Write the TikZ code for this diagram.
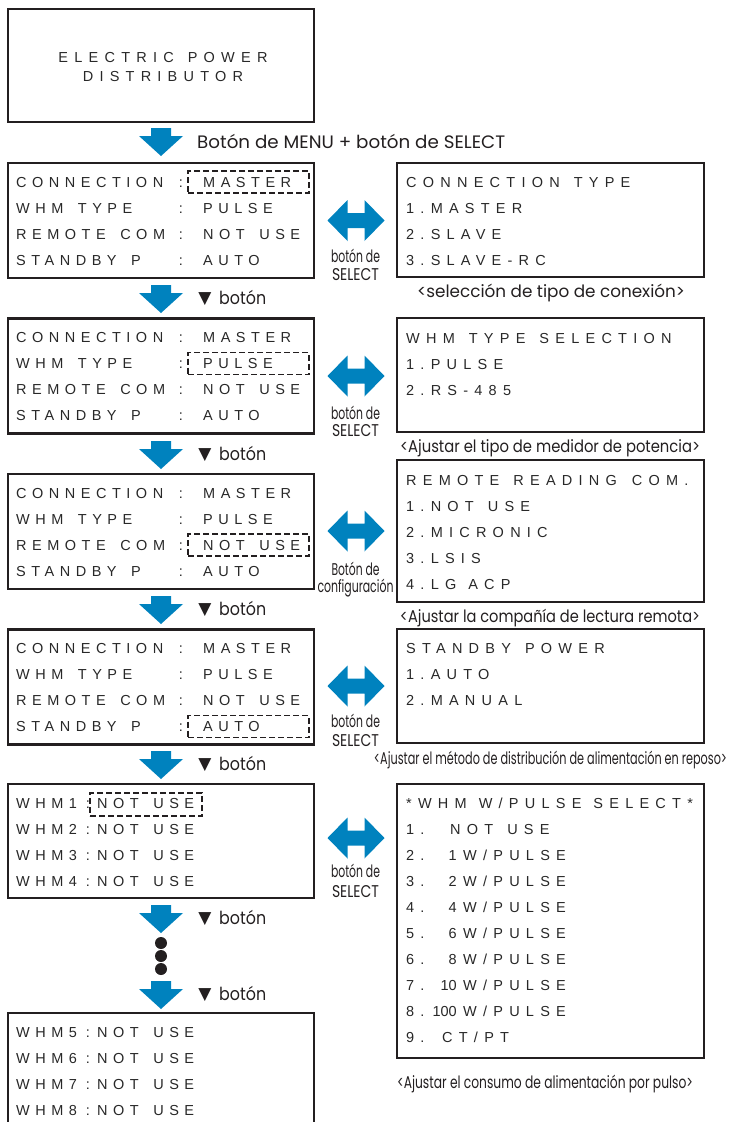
\documentclass[tikz,border=0pt]{standalone}
\usepackage{fontspec}
\usepackage{graphicx}
\setmainfont{Liberation Sans}
\newfontfamily\lcdfont[LetterSpace=38]{Liberation Sans}
\newfontfamily\lcdfontr[LetterSpace=43]{Liberation Sans}
\newfontfamily\numfont{Liberation Sans}
\newfontfamily\capfont{Poppins}
\newfontfamily\symfont{DejaVu Sans}
\definecolor{lgblue}{RGB}{0,130,190}
\definecolor{ink}{RGB}{35,31,32}
\definecolor{lcdtxt}{RGB}{40,40,40}
\newcommand\lcd{\lcdfont\fontsize{14.5}{17}\selectfont}
\newcommand\lcdr{\lcdfontr\fontsize{14.5}{17}\selectfont}
\newcommand\gap{\hspace*{14.5pt}}
\newcommand\gapr{\hspace*{14pt}}
\newcommand\sgap{\hspace*{12pt}}
\newcommand\tgap{\hspace*{15pt}}
\newcommand\fitw[2]{\resizebox{#1}{\height}{#2}}
% block arrows drawn at a named coordinate
\newcommand\downblock[1]{\fill[lgblue] ([shift={(-10,-13)}]#1) -- ([shift={(10,-13)}]#1) -- ([shift={(10,-5)}]#1)
  -- ([shift={(22,-5)}]#1) -- ([shift={(0,15)}]#1) -- ([shift={(-22,-5)}]#1) -- ([shift={(-10,-5)}]#1) -- cycle;}
\newcommand\bothblock[1]{\fill[lgblue] ([shift={(-28.5,0)}]#1) -- ([shift={(-8.5,-20.5)}]#1) -- ([shift={(-8.5,-7.5)}]#1)
  -- ([shift={(8.5,-7.5)}]#1) -- ([shift={(8.5,-20.5)}]#1) -- ([shift={(28.5,0)}]#1) -- ([shift={(8.5,20.5)}]#1)
  -- ([shift={(8.5,7.5)}]#1) -- ([shift={(-8.5,7.5)}]#1) -- ([shift={(-8.5,20.5)}]#1) -- cycle;}
\begin{document}
\begin{tikzpicture}[x=1pt,y=-1pt,
  box/.style={draw=ink,line width=2.4pt,inner sep=0pt,minimum width=306pt},
  rbox/.style={draw=ink,line width=2.4pt,inner sep=0pt,minimum width=307pt},
  sel/.style={draw=ink,line width=1.9pt,dash pattern=on 6pt off 3pt,inner sep=0pt},
  lcd/.style={font=\lcd,text=lcdtxt,inner sep=0pt,anchor=base west},
  lcdc/.style={font=\lcd,text=lcdtxt,inner sep=0pt,anchor=base},
  lcdr/.style={font=\lcdr,text=lcdtxt,inner sep=0pt,anchor=base west},
  lcdrc/.style={font=\lcdr,text=lcdtxt,inner sep=0pt,anchor=base},
  num/.style={font=\numfont\fontsize{14.5}{17}\selectfont,text=lcdtxt,inner sep=0pt,anchor=base east},
  capt/.style={font=\capfont\fontsize{17}{20}\selectfont,text=ink,inner sep=0pt,anchor=base},
  captw/.style={font=\capfont\fontsize{18}{20}\selectfont,text=ink,inner sep=0pt,anchor=base west},
  tri/.style={font=\symfont\fontsize{17}{20}\selectfont,text=ink,inner sep=0pt,anchor=base},
  dotn/.style={circle,fill=ink,inner sep=0pt,minimum size=12pt}]
\clip (0,0) rectangle (729,1122);
% top box
\node[box,minimum height=113pt] (top) at (161,65.5) {};
\node[lcdrc] (t1) at (163,62) {ELECTRIC\gapr POWER};
\node[lcdrc] (t2) at (163,81) {DISTRIBUTOR};
\coordinate (a1) at (161,141);
\downblock{a1}
\node[captw] (h1) at (197,148) {\fitw{308pt}{Botón de MENU + botón de SELECT}};
% left setting boxes rows 2-5
\foreach \k/\T in {2/163,3/318.5,4/474,5/629.5}{
  \node[box,minimum height=115pt] (L\k) at (161,\T+57.5) {};
  \foreach \i/\lab/\val in {1/CONNECTION/MASTER,2/WHM\gap TYPE/PULSE,3/REMOTE\gap COM/NOT\gap USE,4/STANDBY\gap P/AUTO}{
    \node[lcd] (L\k-\i) at (16,{\T+24+26*(\i-1)}) {\lab};
    \node[lcdc] (L\k-\i c) at (181,{\T+24+26*(\i-1)}) {:};
    \node[lcd] (L\k-\i v) at (203,{\T+24+26*(\i-1)}) {\val};
  }
  \node[sel,minimum width=121pt,minimum height=22pt] (S\k) at (248.5,{\T+19+26*(\k-2)}) {};
}
% down arrows and labels
\foreach \n/\y in {2/298,3/454,4/609,5/764,6/918,7/994}{
  \coordinate (a\n) at (161,\y);
  \downblock{a\n}
  \node[tri] (v\n) at (205,\y+5) {▼};
  \node[captw] (b\n) at (219,\y+6) {\fitw{47pt}{botón}};
}
% dots
\node[dotn] (dot1) at (161,943) {};
\node[dotn] (dot2) at (161,956) {};
\node[dotn] (dot3) at (161,969) {};
% double arrows
\foreach \n/\y in {2/220.5,3/376,4/531,5/686,6/838}{
  \coordinate (d\n) at (356,\y);
  \bothblock{d\n}
}
\node[capt] (s2a) at (355.5,262) {\fitw{49pt}{botón de}};
\node[capt] (s2b) at (355.5,280) {\fitw{47pt}{SELECT}};
\node[capt] (s3a) at (355.5,419) {\fitw{49pt}{botón de}};
\node[capt] (s3b) at (355.5,436) {\fitw{47pt}{SELECT}};
\node[capt] (s4a) at (355.5,575) {\fitw{48pt}{Botón de}};
\node[capt] (s4b) at (355.5,592) {\fitw{76pt}{configuración}};
\node[capt] (s5a) at (355.5,727) {\fitw{49pt}{botón de}};
\node[capt] (s5b) at (355.5,746) {\fitw{47pt}{SELECT}};
\node[capt] (s6a) at (355.5,877) {\fitw{49pt}{botón de}};
\node[capt] (s6b) at (355.5,897) {\fitw{47pt}{SELECT}};
% right boxes
\node[rbox,minimum height=114pt] (R2) at (550.5,220) {};
\node[lcdr] (R2-1) at (406,187) {CONNECTION\gapr TYPE};
\node[lcdr] (R2-2) at (406,213) {1.MASTER};
\node[lcdr] (R2-3) at (406,239) {2.SLAVE};
\node[lcdr] (R2-4) at (406,265) {3.SLAVE-RC};
\node[capt] (c2) at (551,297) {\fitw{268pt}{<selección de tipo de conexión>}};
\node[rbox,minimum height=114pt] (R3) at (550.5,375) {};
\node[lcdr] (R3-1) at (406,343) {WHM\gapr TYPE\gapr SELECTION};
\node[lcdr] (R3-2) at (406,369) {1.PULSE};
\node[lcdr] (R3-3) at (406,395) {2.RS-485};
\node[capt] (c3) at (550,452) {\fitw{300pt}{<Ajustar el tipo de medidor de potencia>}};
\node[rbox,minimum height=142pt] (R4) at (550.5,531) {};
\node[lcdr] (R4-1) at (406,485) {REMOTE\gapr READING\tgap COM.};
\node[lcdr] (R4-2) at (406,511) {1.NOT\gapr USE};
\node[lcdr] (R4-3) at (406,537) {2.MICRONIC};
\node[lcdr] (R4-4) at (406,563) {3.LSIS};
\node[lcdr] (R4-5) at (406,589) {4.LG\sgap ACP};
\node[capt] (c4) at (550,622) {\fitw{300pt}{<Ajustar la compañía de lectura remota>}};
\node[rbox,minimum height=114pt] (R5) at (550.5,686) {};
\node[lcdr] (R5-1) at (406,653) {STANDBY\gapr POWER};
\node[lcdr] (R5-2) at (406,679) {1.AUTO};
\node[lcdr] (R5-3) at (406,705) {2.MANUAL};
\node[capt] (c5) at (550.5,764) {\fitw{353pt}{<Ajustar el método de distribución de alimentación en reposo>}};
% WHM boxes
\node[box,minimum height=114pt] (L6) at (161,841) {};
\foreach \i in {1,2,3,4}{
  \node[lcd] (W\i) at (16,{808+26*(\i-1)}) {WHM\i};
  \node[lcdc] (W\i c) at (88,{808+26*(\i-1)}) {:};
  \node[lcd] (W\i v) at (97,{808+26*(\i-1)}) {NOT\gap USE};
}
\node[sel,minimum width=112pt,minimum height=23pt] (S6) at (146,804.5) {};
\node[box,minimum height=114pt] (L7) at (161,1070) {};
\foreach \i/\j in {5/1,6/2,7/3,8/4}{
  \node[lcd] (W\i) at (16,{1037+26*(\j-1)}) {WHM\i};
  \node[lcdc] (W\i c) at (88,{1037+26*(\j-1)}) {:};
  \node[lcd] (W\i v) at (97,{1037+26*(\j-1)}) {NOT\gap USE};
}
\node[rbox,minimum height=274pt] (R6) at (550.5,921) {};
\node[lcdr] (P0) at (406,808) {*WHM\sgap W/PULSE\sgap SELECT*};
\node[lcdr] (P1n) at (406,834) {1.};
\node[lcdr] (P1v) at (450,834) {NOT\gapr USE};
\foreach \i/\w in {2/1,3/2,4/4,5/6,6/8,7/10,8/100}{
  \node[lcdr] (P\i n) at (406,{808+26*\i}) {\i.};
  \node[num] (P\i w) at (457,{808+26*\i}) {\w};
  \node[lcdr] (P\i v) at (463,{808+26*\i}) {W/PULSE};
}
\node[lcdr] (P9n) at (406,1042) {9.};
\node[lcdr] (P9v) at (442,1042) {CT/PT};
\node[capt] (c6) at (545,1088) {\fitw{296pt}{<Ajustar el consumo de alimentación por pulso>}};
\end{tikzpicture}
\end{document}
